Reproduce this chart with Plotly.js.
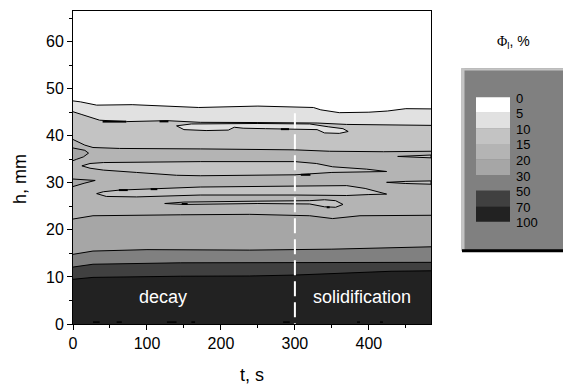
<!DOCTYPE html>
<html><head><meta charset="utf-8">
<script src="https://cdn.plot.ly/plotly-3.0.1.min.js"></script>
<style>html,body{margin:0;padding:0;background:#fff}#chart{width:563px;height:385px}</style>
</head><body><div id="chart"></div>
<script>
// ---- data: contour boundary heights h (mm) versus time t (s) ----
// upper edge of the 5-10 % zone (above: 0-5 %)
const tB5 = [0, 10, 32, 80, 170, 250, 325, 335, 360, 400, 425, 450, 484];
const hB5 = [47.4, 47.2, 46.5, 46.6, 46.0, 46.3, 46.0, 45.5, 44.9, 45.0, 45.25, 45.75, 45.7];
// 10 % boundary
const tB10 = [0, 5, 12, 36, 72, 127, 172, 250, 330, 370, 420, 484];
const hB10 = [45.1, 44.8, 44.5, 43.3, 43.0, 43.2, 42.85, 42.8, 42.7, 42.4, 42.3, 42.2];
// 15 % boundary (top of the 15-20 % layer)
const tB15 = [0, 16, 27, 63, 172, 300, 347, 420, 484];
const hB15 = [39.2, 38.0, 37.5, 37.3, 37.2, 37.0, 36.7, 36.6, 36.7];
// 20 % boundary
const tB20 = [0, 27, 145, 239, 320, 351, 388, 484];
const hB20 = [22.3, 23.0, 23.2, 23.3, 23.0, 22.4, 23.0, 23.1];
// 30 % boundary
const tB30 = [0, 27, 100, 239, 350, 484];
const hB30 = [14.8, 15.5, 15.8, 15.7, 15.9, 16.4];
// 50 % boundary
const tB50 = [0, 27, 145, 484];
const hB50 = [12.1, 12.7, 13.0, 13.1];
// 70 % boundary
const tB70 = [0, 27, 145, 239, 300, 374, 430, 484];
const hB70 = [9.5, 9.9, 10.15, 10.2, 10.4, 10.9, 11.2, 11.3];

// closed islands (t, h)
const islandA_t = [12, 23, 41, 172, 300, 329, 351, 397, 424, 400, 350, 320, 300, 172, 140, 86, 41, 23, 12];
const islandA_h = [33.6, 34.1, 34.3, 34.5, 34.5, 34.1, 33.4, 32.9, 32.4, 32.3, 32.2, 31.9, 31.7, 31.5, 31.6, 32.2, 32.7, 33.1, 33.6];
const islandB_t = [32, 41, 63, 104, 172, 300, 370, 395, 424, 400, 370, 300, 172, 86, 45, 32];
const islandB_h = [27.7, 28.1, 28.45, 28.65, 29.1, 29.3, 29.4, 28.8, 27.6, 27.5, 27.3, 27.4, 27.4, 27.0, 27.1, 27.7];
const islandC_t = [124, 150, 250, 320, 340, 355, 365, 355, 340, 320, 250, 150, 124];
const islandC_h = [25.6, 25.9, 26.1, 26.2, 26.4, 26.2, 25.4, 24.8, 24.9, 25.5, 25.6, 25.4, 25.6];
const islandD_t = [0, 8, 16, 21, 14, 5, 0];
const islandD_h = [37.4, 37.2, 36.9, 36.3, 35.5, 35.0, 34.7];
const islandE_t = [0, 15, 30, 15, 0];
const islandE_h = [30.8, 30.7, 30.5, 29.9, 29.2];
const islandF_t = [439, 460, 484, 484, 460, 439];
const islandF_h = [35.6, 35.8, 35.9, 35.3, 35.4, 35.6];
const islandG_t = [424, 450, 484, 484, 450, 424];
const islandG_h = [30.1, 30.3, 30.4, 29.7, 29.85, 30.1];
const islandH_t = [140, 160, 250, 320, 345, 365, 372, 360, 340, 330, 260, 230, 218, 210, 180, 150, 140];
const islandH_h = [42.1, 42.5, 42.6, 42.5, 41.9, 41.5, 40.9, 40.5, 40.6, 41.3, 41.5, 41.6, 41.8, 41.2, 41.1, 41.3, 42.1];

// tiny high-fraction specks (segments)
const speckT = [40, 72, null, 117, 129, null, 62, 74, null, 105, 114, null, 147, 155, null, 308, 321, null, 281, 292, null, 343, 347];
const speckH = [43.0, 43.0, null, 43.05, 43.05, null, 28.45, 28.45, null, 28.65, 28.65, null, 25.5, 25.5, null, 31.7, 31.7, null, 41.4, 41.4, null, 24.8, 24.8];
const baseT = [27, 36, null, 59, 66, null, 127, 140, null, 160, 165, null, 284, 293, null, 384, 388, null, 415, 419];
const baseH = [0.4, 0.4, null, 0.4, 0.4, null, 0.4, 0.4, null, 0.4, 0.4, null, 0.4, 0.4, null, 0.4, 0.4, null, 0.4, 0.4];

// phase change time
const tSwitch = [300, 300];
const hSwitch = [44.8, 0];

// legend levels (Φl, %) and band greys
const levelLabels = ['0', '5', '10', '15', '20', '30', '50', '70', '100'];
const bandColors = ['#ffffff', '#e1e1e1', '#c3c3c3', '#b4b4b4', '#a6a6a6', '#808080', '#404040', '#222222'];
const phaseLabels = ['decay', 'solidification'];
const phaseT = [122, 391];
const phaseH = [5.7, 5.7];

// ---- traces ----
const FONT = 'Liberation Sans, Arial, sans-serif';
const lineStyle = {color: '#000', width: 1};
const traces = [];
function band(t, h, col) {
  traces.push({x: t, y: h, type: 'scatter', mode: 'lines', fill: 'tozeroy', fillcolor: col,
    line: lineStyle, hoverinfo: 'skip'});
}
band(tB5, hB5, bandColors[1]);
band(tB10, hB10, bandColors[2]);
band(tB15, hB15, bandColors[3]);
band(tB20, hB20, bandColors[4]);
band(tB30, hB30, bandColors[5]);
band(tB50, hB50, bandColors[6]);
band(tB70, hB70, bandColors[7]);
function island(t, h, col) {
  traces.push({x: t, y: h, type: 'scatter', mode: 'lines', fill: 'toself', fillcolor: col,
    line: lineStyle, hoverinfo: 'skip'});
}
island(islandA_t, islandA_h, bandColors[2]);
island(islandB_t, islandB_h, bandColors[2]);
island(islandC_t, islandC_h, bandColors[2]);
island(islandD_t, islandD_h, bandColors[4]);
island(islandE_t, islandE_h, bandColors[4]);
island(islandF_t, islandF_h, bandColors[2]);
island(islandG_t, islandG_h, bandColors[2]);
island(islandH_t, islandH_h, bandColors[1]);
traces.push({x: speckT, y: speckH, type: 'scatter', mode: 'lines', line: {color: '#000', width: 2}, hoverinfo: 'skip'});
traces.push({x: baseT, y: baseH, type: 'scatter', mode: 'lines', line: {color: '#000', width: 1.5}, hoverinfo: 'skip'});
traces.push({x: tSwitch, y: hSwitch, type: 'scatter', mode: 'lines', line: {color: '#fff', width: 2, dash: '15px,6px'}, hoverinfo: 'skip'});

// ---- legend (drawn as shapes in page pixels converted to paper units) ----
const L = 73, R = 431, T = 11, B = 324;
const px = p => (p - L) / (R - L);
const py = p => (B - p) / (B - T);
const shapes = [];
const annotations = [];
phaseLabels.forEach((s, i) => {
  annotations.push({xref: 'x', yref: 'y', x: phaseT[i], y: phaseH[i], text: s, showarrow: false,
    xanchor: 'center', yanchor: 'middle', font: {family: FONT, size: 18, color: '#fff'}});
});
shapes.push({type: 'rect', xref: 'paper', yref: 'paper', x0: px(461.5), x1: px(563), y0: py(250.7), y1: py(68.3),
  fillcolor: '#808080', line: {width: 0}, layer: 'above'});
shapes.push({type: 'rect', xref: 'paper', yref: 'paper', x0: px(461.5), x1: px(464.5), y0: py(250.7), y1: py(68.3),
  fillcolor: '#c4c4c4', line: {width: 0}, layer: 'above'});
shapes.push({type: 'rect', xref: 'paper', yref: 'paper', x0: px(461.5), x1: px(563), y0: py(70.5), y1: py(68.3),
  fillcolor: '#c4c4c4', line: {width: 0}, layer: 'above'});
shapes.push({type: 'rect', xref: 'paper', yref: 'paper', x0: px(462), x1: px(563), y0: py(252.3), y1: py(249.3),
  fillcolor: '#000', line: {width: 0}, layer: 'above'});
const sw0 = 97.3, swStep = 15.55;
bandColors.forEach((c, i) => {
  shapes.push({type: 'rect', xref: 'paper', yref: 'paper', x0: px(476), x1: px(510),
    y0: py(sw0 + (i + 1) * swStep), y1: py(sw0 + i * swStep), fillcolor: c, line: {width: 0}, layer: 'above'});
});
levelLabels.forEach((s, i) => {
  annotations.push({xref: 'paper', yref: 'paper', x: px(514), y: py(sw0 + i * swStep + 1), text: s, showarrow: false,
    xanchor: 'left', yanchor: 'middle', font: {family: FONT, size: 13, color: '#000'}});
});
annotations.push({xref: 'paper', yref: 'paper', x: px(513), y: py(42), showarrow: false, xanchor: 'center', yanchor: 'middle',
  text: '<span style="font-family:Liberation Serif">Φ</span><sub>l</sub>, %', font: {family: FONT, size: 14, color: '#000'}});
// axis titles
annotations.push({xref: 'paper', yref: 'paper', x: 0.5, y: py(375), text: 't, s', showarrow: false,
  xanchor: 'center', yanchor: 'middle', font: {family: FONT, size: 18, color: '#000'}});
annotations.push({xref: 'paper', yref: 'paper', x: px(20), y: py(179), text: 'h, mm', showarrow: false, textangle: -90,
  xanchor: 'center', yanchor: 'middle', font: {family: FONT, size: 18, color: '#000'}});

const axisCommon = {
  ticks: 'outside', ticklen: 5, tickwidth: 1, tickcolor: '#000',
  showline: true, linecolor: '#000', linewidth: 1, mirror: true,
  showgrid: false, zeroline: false,
  tickfont: {family: FONT, size: 16, color: '#000'}
};
const layout = {
  width: 563, height: 385,
  margin: {l: L, r: 563 - R, t: T, b: 385 - B},
  paper_bgcolor: '#fff', plot_bgcolor: '#fff', showlegend: false,
  xaxis: Object.assign({}, axisCommon, {range: [0, 484], tick0: 0, dtick: 100,
    minor: {dtick: 50, ticks: 'outside', ticklen: 3, tickcolor: '#000', showgrid: false}}),
  yaxis: Object.assign({}, axisCommon, {range: [0, 66.5], tick0: 0, dtick: 10,
    minor: {dtick: 5, ticks: 'outside', ticklen: 3, tickcolor: '#000', showgrid: false}}),
  shapes: shapes, annotations: annotations
};
Plotly.newPlot('chart', traces, layout, {staticPlot: true});
</script></body></html>
